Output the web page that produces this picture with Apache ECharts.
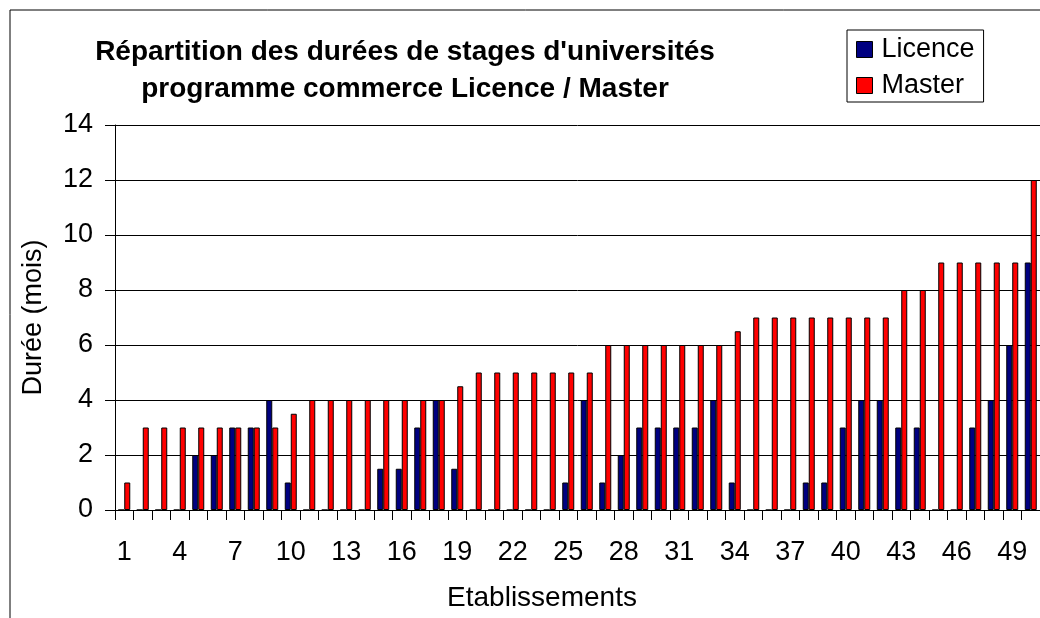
<!DOCTYPE html>
<html>
<head>
<meta charset="utf-8">
<script src="https://cdn.jsdelivr.net/npm/echarts@6/dist/echarts.min.js"></script>
<style>
  html, body { margin: 0; padding: 0; background: #fff; }
  #chart { width: 1040px; height: 618px; }
</style>
</head>
<body>
<div id="chart"></div>
<script>
// etablissements 1..50
var categories = [];
for (var i = 1; i <= 50; i++) categories.push(String(i));

// durées en mois
var licence = [0, 0, 0, 0, 2, 2, 3, 3, 4, 1,
               0, 0, 0, 0, 1.5, 1.5, 3, 4, 1.5, 0,
               0, 0, 0, 0, 1, 4, 1, 2, 3, 3,
               3, 3, 4, 1, 0, 0, 0, 1, 1, 3,
               4, 4, 3, 3, 0, 0, 3, 4, 6, 9];
var master = [1, 3, 3, 3, 3, 3, 3, 3, 3, 3.5,
              4, 4, 4, 4, 4, 4, 4, 4, 4.5, 5,
              5, 5, 5, 5, 5, 5, 6, 6, 6, 6,
              6, 6, 6, 6.5, 7, 7, 7, 7, 7, 7,
              7, 7, 8, 8, 9, 9, 9, 9, 9, 12];

var font = '"Liberation Sans", Arial, sans-serif';

var chartDom = document.getElementById('chart');
var myChart = echarts.init(chartDom);
var option = {
  animation: false,
  title: {
    text: "Répartition des durées de stages d'universités\nprogramme commerce Licence / Master",
    left: 400,
    top: 29,
    textAlign: 'center',
    textStyle: {
      fontFamily: font,
      fontWeight: 'bold',
      fontSize: 28,
      lineHeight: 37,
      color: '#000'
    }
  },
  legend: {
    orient: 'vertical',
    left: 847,
    top: 30,
    padding: [6, 9, 3, 9],
    itemGap: 9,
    itemWidth: 16,
    itemHeight: 16,
    icon: 'rect',
    borderColor: '#000',
    borderWidth: 1,
    textStyle: { fontFamily: font, fontSize: 27, color: '#000', padding: [0, 0, 0, 4] },
    data: [
      { name: 'Licence', itemStyle: { borderColor: '#000', borderWidth: 1 } },
      { name: 'Master', itemStyle: { borderColor: '#000', borderWidth: 1 } }
    ]
  },
  grid: {
    left: 115,
    top: 125,
    width: 931,
    height: 385,
    containLabel: false
  },
  xAxis: {
    type: 'category',
    data: categories,
    axisLine: { lineStyle: { color: '#000', width: 1 } },
    axisTick: { show: true, interval: 0, length: 10, lineStyle: { color: '#000' } },
    axisLabel: { interval: 2, margin: 29, fontFamily: font, fontSize: 27, color: '#000' }
  },
  yAxis: {
    type: 'value',
    min: 0,
    max: 14,
    interval: 2,
    name: 'Durée (mois)',
    nameLocation: 'middle',
    nameGap: 68,
    nameTextStyle: { fontFamily: font, fontSize: 27, color: '#000' },
    axisLine: { show: true, lineStyle: { color: '#000', width: 1 } },
    axisTick: { show: true, length: 10, lineStyle: { color: '#000' } },
    axisLabel: { margin: 22, fontFamily: font, fontSize: 27, color: '#000' },
    splitLine: { lineStyle: { color: '#000', width: 1 } }
  },
  graphic: [
    {
      type: 'rect',
      shape: { x: 10, y: 10, width: 1100, height: 700 },
      style: { fill: null, stroke: '#000', lineWidth: 1 },
      silent: true
    },
    {
      type: 'text',
      x: 542,
      y: 598,
      style: {
        text: 'Etablissements', fontFamily: font, fontSize: 28, fill: '#000',
        textAlign: 'center', textVerticalAlign: 'middle'
      }
    }
  ],
  series: [
    {
      name: 'Licence',
      type: 'bar',
      data: licence,
      barWidth: 6,
      barGap: '0%',
      itemStyle: { color: '#000080', borderColor: '#000', borderWidth: 1 }
    },
    {
      name: 'Master',
      type: 'bar',
      data: master,
      barWidth: 6,
      itemStyle: { color: '#ff0000', borderColor: '#000', borderWidth: 1 }
    }
  ]
};
option && myChart.setOption(option);
</script>
</body>
</html>
